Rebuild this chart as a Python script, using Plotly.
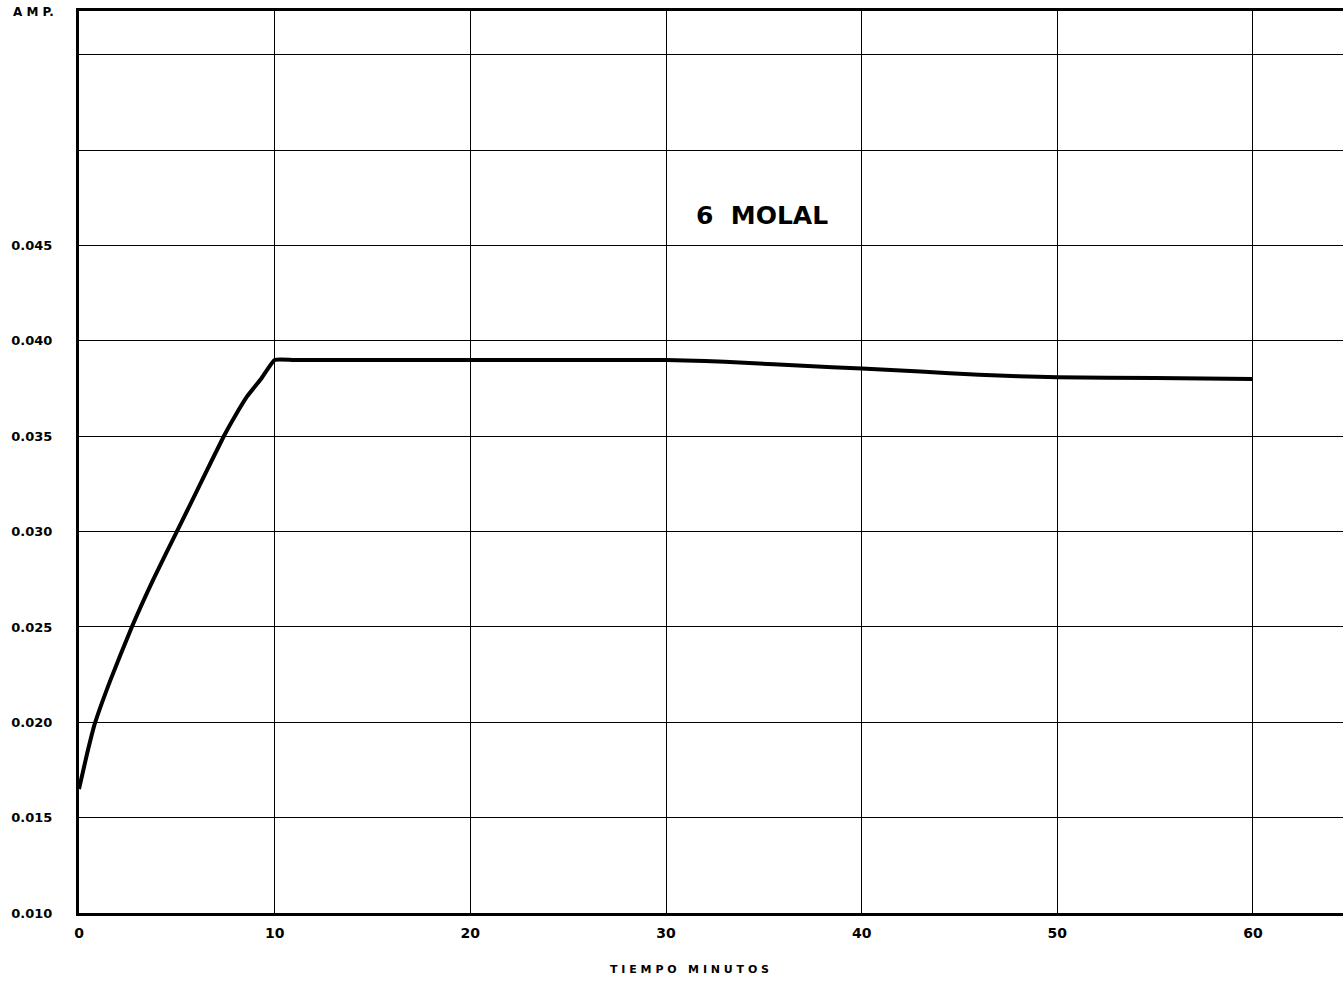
import plotly.graph_objects as go

# Current (amperes) measured over time for the 6 molal solution
tiempo_min = [0, 0.4, 0.8, 1.6, 2.7, 3.8, 5.0, 6.2, 7.4, 8.0, 8.6, 9.3, 10,
              11, 20, 30, 32, 34, 37, 40, 43, 46, 48, 50, 55, 60]
amperios = [0.0165, 0.0183, 0.0199, 0.0222, 0.0250, 0.0275, 0.0300, 0.0325, 0.0350, 0.0361, 0.0371, 0.0380, 0.0390,
            0.0390, 0.0390, 0.0390, 0.03895, 0.03885, 0.0387, 0.03855, 0.0384, 0.03822, 0.03815, 0.0381, 0.03805, 0.0380]

x_ticks = [0, 10, 20, 30, 40, 50, 60]
y_ticks = [0.010, 0.015, 0.020, 0.025, 0.030, 0.035, 0.040, 0.045, 0.050, 0.055]
y_tick_text = ["0.010", "0.015", "0.020", "0.025", "0.030", "0.035", "0.040", "0.045", "", ""]

FONT = "DejaVu Sans"

fig = go.Figure()
fig.add_trace(go.Scatter(
    x=tiempo_min, y=amperios, mode="lines",
    line=dict(color="black", width=4, shape="spline", smoothing=0.4),
    hoverinfo="skip", showlegend=False,
))

fig.add_annotation(x=34.9, y=0.0466, xref="x", yref="y", text="<b>6  MOLAL</b>",
                   showarrow=False, font=dict(family=FONT, size=25, color="black"))
fig.add_annotation(x=-0.054, y=0.999, xref="paper", yref="paper", text="<b>A M P.</b>",
                   showarrow=False, xanchor="left", yanchor="middle",
                   font=dict(family=FONT, size=12, color="black"))
fig.add_annotation(x=0.4826, y=-0.063, xref="paper", yref="paper",
                   text="<b>T I E M P O   M I N U T O S</b>", showarrow=False,
                   xanchor="center", yanchor="middle",
                   font=dict(family=FONT, size=11, color="black"))

fig.update_layout(
    width=1343, height=981,
    margin=dict(l=79, r=0, t=11, b=68),
    paper_bgcolor="white", plot_bgcolor="white",
    xaxis=dict(
        range=[0, 64.6], tickvals=x_ticks, ticktext=[str(v) for v in x_ticks],
        showgrid=True, gridcolor="black", gridwidth=1,
        showline=True, linecolor="black", linewidth=2.5, mirror=True,
        zeroline=False, ticks="", ticklabelstandoff=5,
        tickfont=dict(family=FONT, size=14, color="black", weight="bold"),
    ),
    yaxis=dict(
        range=[0.010, 0.0573], tickvals=y_ticks, ticktext=y_tick_text,
        showgrid=True, gridcolor="black", gridwidth=1,
        showline=True, linecolor="black", linewidth=3,
        zeroline=False, ticks="", ticklabelstandoff=21,
        tickfont=dict(family=FONT, size=13, color="black", weight="bold"),
    ),
)

fig.write_html("out.html")
